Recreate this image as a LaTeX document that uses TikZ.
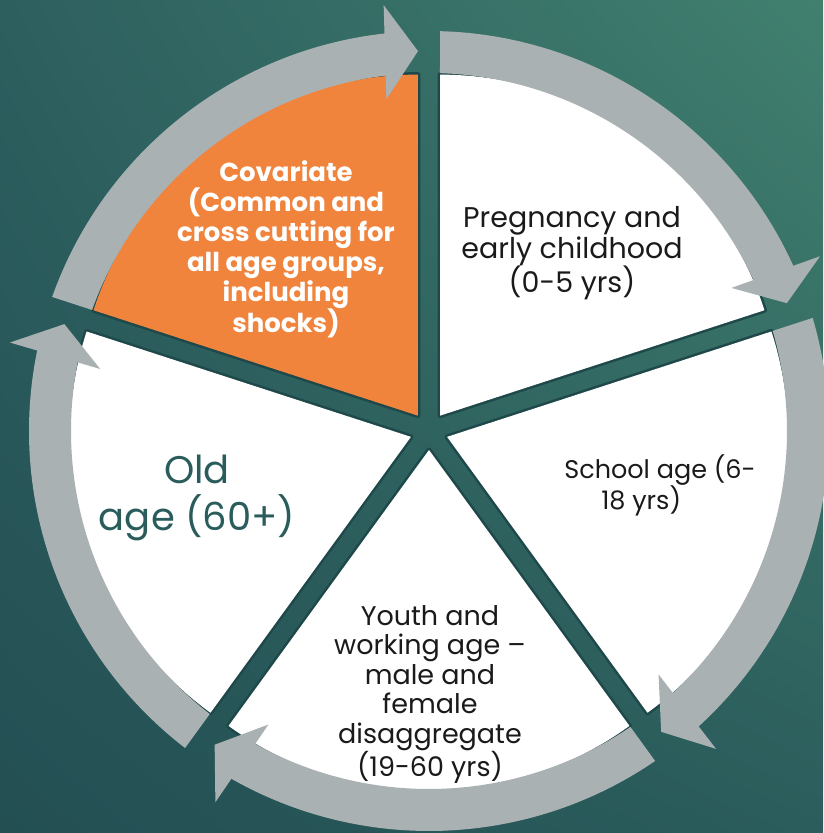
\documentclass[tikz,border=0pt]{standalone}
\usepackage{fontspec}
\setmainfont{Poppins}
\usetikzlibrary{shadings}
\definecolor{bgul}{HTML}{2D5F5F}
\definecolor{bgur}{HTML}{41806F}
\definecolor{bgll}{HTML}{234F53}
\definecolor{bglr}{HTML}{2B5D5C}
\definecolor{segedge}{HTML}{1E4849}
\definecolor{segorange}{HTML}{F0843D}
\definecolor{arrowgray}{HTML}{AAB1B3}
\definecolor{oldteal}{HTML}{2A5C5C}
\definecolor{txt}{HTML}{1A1A1A}
\begin{document}
\begin{tikzpicture}[x=1pt,y=1pt,
  segshadow/.style={draw=segedge, line width=5pt, line join=round},
  arrowpart/.style={fill=arrowgray},
  lbl/.style={align=center, inner sep=0pt, anchor=base, text=txt}]
\useasboundingbox (0,0) rectangle (823,833);
\shade[upper left=bgul, upper right=bgur, lower left=bgll, lower right=bglr] (0,0) rectangle (823,833);
\coordinate (C) at (429,402);
\begin{scope}[shift={(C)}]
  % segment shadows
  \foreach \b in {54,-18,-90,-162,126}{
    \draw[segshadow] (\b:19) -- ++({\b-36}:341) arc[start angle={\b-36}, end angle={\b+36}, radius=341] -- cycle;
  }
  % segments
  \foreach \b/\col in {54/white,-18/white,-90/white,-162/white,126/segorange}{
    \fill[\col] (\b:19) -- ++({\b-36}:341) arc[start angle={\b-36}, end angle={\b+36}, radius=341] -- cycle;
  }
  % circular arrows
  \foreach \g in {162,90,18,-54,-126}{
    \fill[arrowpart] ({\g-1.58}:400) arc[start angle={\g-1.58}, end angle={\g-65.84}, radius=400]
      -- ({\g-65.84}:358) arc[start angle={\g-65.84}, end angle={\g-1.76}, radius=358] -- cycle;
    \fill[arrowpart] ({\g-70.34}:380) -- ({\g-65.92}:428.3) -- ({\g-64.68}:334.6) -- cycle;
  }
\end{scope}
% labels (anchor=base is the baseline of the last line)
\node[lbl, font=\fontsize{28.5}{31}\selectfont] (preg) at (572,540) {Pregnancy and\\early childhood\\(0-5 yrs)};
\node[lbl, font=\fontsize{25.5}{27.5}\selectfont, align=left] (school) at (660,323) {School age (6-\\\hspace*{37pt}18 yrs)};
\node[lbl, font=\fontsize{27}{29.6}\selectfont] (youth) at (430,56) {Youth and\\working age –\\male and\\female\\disaggregate\\(19-60 yrs)};
\node[lbl, font=\fontsize{38.5}{47}\selectfont, text=oldteal] (old) at (197,302) {Old\\age (60+)};
\node[lbl, font=\fontsize{26}{30}\selectfont\bfseries, text=white] (cov) at (286,500) {Covariate\\(Common and\\cross cutting for\\all age groups,\\including\\shocks)};
\end{tikzpicture}
\end{document}
